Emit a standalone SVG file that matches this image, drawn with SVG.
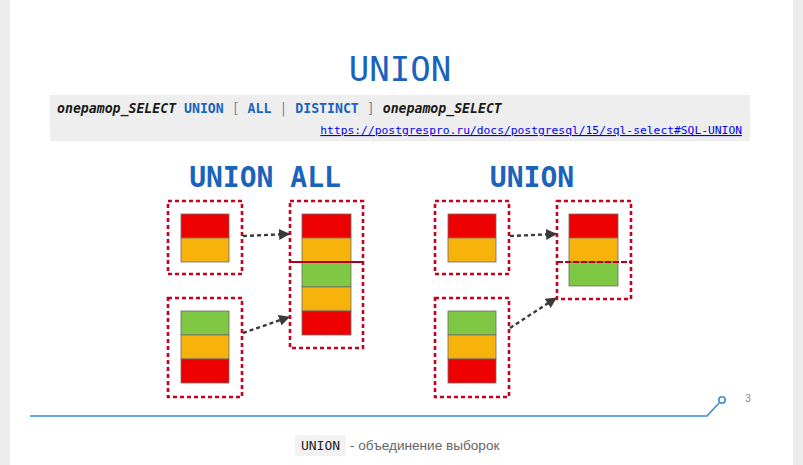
<svg xmlns="http://www.w3.org/2000/svg" width="803" height="465" viewBox="0 0 803 465">
<defs>
<style>
.frame{fill:none;stroke:#c8001e;stroke-width:2.6;stroke-dasharray:4 3}
.cell{stroke:#6b6b6b;stroke-width:0.8}
.r{fill:#ee0000}.o{fill:#f7b20c}.g{fill:#7ec843}
.conn{fill:none;stroke:#3a3a3a;stroke-width:2.4;stroke-dasharray:4 3}
.ttl{font-family:"DejaVu Sans Mono",monospace;font-weight:bold;font-size:28px;fill:#1a63bd;text-anchor:middle}
</style>
<marker id="ah" viewBox="0 0 10 10" refX="9" refY="5" markerWidth="4.6" markerHeight="4.6" orient="auto" markerUnits="strokeWidth">
<path d="M0,0 L10,5 L0,10 z" fill="#3a3a3a"/>
</marker>
</defs>
<rect x="0" y="0" width="803" height="465" fill="#ececec"/>
<rect x="10" y="0" width="783" height="465" fill="#ffffff"/>

<text x="400" y="81" font-family="DejaVu Sans Mono,monospace" font-size="34" fill="#1a63bd" text-anchor="middle">UNION</text>

<g id="syntax">
<rect x="50" y="95" width="700" height="46" fill="#eeeeee"/>
<text x="57" y="113" font-family="DejaVu Sans Mono,monospace" font-size="13.2" font-weight="bold"><tspan font-style="italic" fill="#1a1a1a">onepamop_SELECT</tspan> <tspan fill="#1a63bd">UNION</tspan> <tspan fill="#888888" font-weight="normal">[</tspan> <tspan fill="#1a63bd">ALL</tspan> <tspan fill="#888888" font-weight="normal">|</tspan> <tspan fill="#1a63bd">DISTINCT</tspan> <tspan fill="#888888" font-weight="normal">]</tspan> <tspan font-style="italic" fill="#1a1a1a">onepamop_SELECT</tspan></text>
<text x="742" y="134" font-family="DejaVu Sans Mono,monospace" font-size="11.3" fill="#0000ee" text-anchor="end" text-decoration="underline">https://postgrespro.ru/docs/postgresql/15/sql-select#SQL-UNION</text>
</g>

<text class="ttl" x="265" y="187">UNION ALL</text>
<text class="ttl" x="532" y="187">UNION</text>

<g id="connectors">
<line class="conn" x1="243" y1="236" x2="289" y2="234" marker-end="url(#ah)"/>
<line class="conn" x1="243" y1="333" x2="289" y2="317" marker-end="url(#ah)"/>
<line class="conn" x1="510" y1="236" x2="556" y2="234" marker-end="url(#ah)"/>
<line class="conn" x1="510" y1="328" x2="556" y2="298" marker-end="url(#ah)"/>
</g>

<g id="ua-src1">
<rect class="frame" x="168" y="201" width="74" height="73"/>
<rect class="cell r" x="181" y="214" width="48" height="24"/>
<rect class="cell o" x="181" y="238" width="48" height="24"/>
</g>
<g id="ua-src2">
<rect class="frame" x="168" y="298" width="74" height="99"/>
<rect class="cell g" x="181" y="311" width="48" height="24"/>
<rect class="cell o" x="181" y="335" width="48" height="24"/>
<rect class="cell r" x="181" y="359" width="48" height="24"/>
</g>
<g id="ua-result">
<rect class="frame" x="290" y="201" width="73" height="147"/>
<rect class="cell r" x="302" y="214" width="49" height="24"/>
<rect class="cell o" x="302" y="238" width="49" height="24"/>
<rect class="cell g" x="302" y="262" width="49" height="25"/>
<rect class="cell o" x="302" y="287" width="49" height="24"/>
<rect class="cell r" x="302" y="311" width="49" height="24"/>
<line x1="290" y1="262" x2="363" y2="262" stroke="#b0001a" stroke-width="2"/>
</g>

<g id="u-src1">
<rect class="frame" x="435" y="201" width="74" height="73"/>
<rect class="cell r" x="448" y="214" width="48" height="24"/>
<rect class="cell o" x="448" y="238" width="48" height="24"/>
</g>
<g id="u-src2">
<rect class="frame" x="435" y="298" width="74" height="99"/>
<rect class="cell g" x="448" y="311" width="48" height="24"/>
<rect class="cell o" x="448" y="335" width="48" height="24"/>
<rect class="cell r" x="448" y="359" width="48" height="24"/>
</g>
<g id="u-result">
<rect class="frame" x="557" y="201" width="74" height="98"/>
<rect class="cell r" x="569" y="214" width="49" height="24"/>
<rect class="cell o" x="569" y="238" width="49" height="24"/>
<rect class="cell g" x="569" y="262" width="49" height="24"/>
<line x1="557" y1="262" x2="631" y2="262" stroke="#b0001a" stroke-width="2" stroke-dasharray="6 2"/>
</g>

<g id="footer">
<polyline points="30,416 707,416 719,403" fill="none" stroke="#3d8bd0" stroke-width="1.6"/>
<circle cx="722" cy="400" r="3.2" fill="#ffffff" stroke="#3d8bd0" stroke-width="1.6"/>
<text x="748" y="402" font-family="Liberation Sans,sans-serif" font-size="10" fill="#888888" text-anchor="middle">3</text>
</g>

<g id="caption">
<rect x="295" y="435" width="51" height="21" rx="3" fill="#f2f2f2"/>
<text x="320.5" y="450" font-family="DejaVu Sans Mono,monospace" font-size="13" fill="#222222" text-anchor="middle">UNION</text>
<text x="350" y="450" font-family="Liberation Sans,sans-serif" font-size="13.6" fill="#666666">- объединение выборок</text>
</g>
</svg>
